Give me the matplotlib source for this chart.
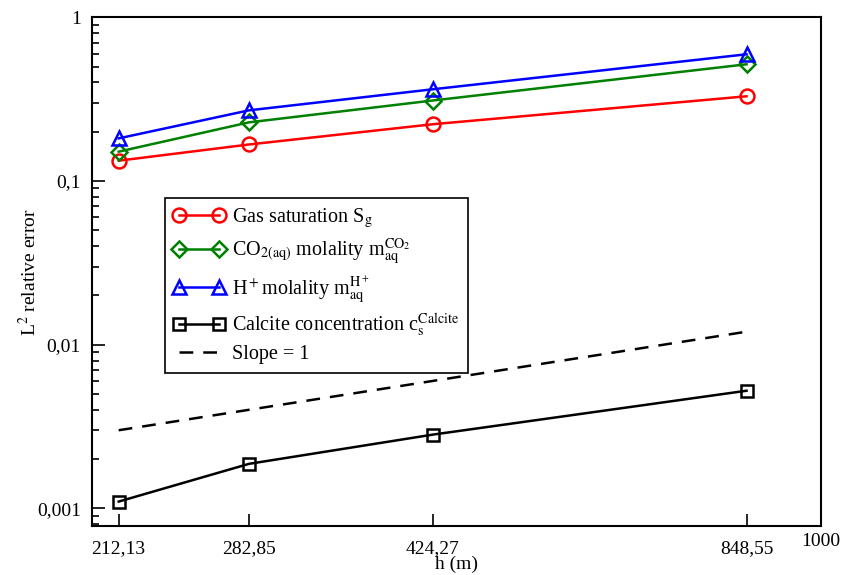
import matplotlib
matplotlib.use('Agg')
import matplotlib.pyplot as plt
import matplotlib.transforms as mtransforms
from matplotlib.ticker import FixedLocator, LogLocator, NullLocator

plt.rcParams['font.family'] = ['Liberation Serif', 'DejaVu Serif']
plt.rcParams['mathtext.fontset'] = 'stix'

# --------------------------
# Data
# --------------------------
h = [212.13, 282.85, 424.27, 848.55]
gas_sat = [0.133, 0.167, 0.222, 0.329]
co2_mol = [0.151, 0.228, 0.31, 0.516]
hplus_mol = [0.182, 0.27, 0.363, 0.594]
calcite = [0.0011, 0.00187, 0.00282, 0.00523]
slope_one = [0.003, 0.004, 0.006, 0.012]

xtick_vals = [212.13, 282.85, 424.27, 848.55, 1000]
xtick_labels = ['212,13', '282,85', '424,27', '848,55', '1000']
ytick_vals = [0.001, 0.01, 0.1, 1]
ytick_labels = ['0,001', '0,01', '0,1', '1']

fig = plt.figure(figsize=(8.56, 5.75), dpi=100)
ax = fig.add_axes([0.1075, 0.0852, 0.959 - 0.1075, 0.970 - 0.0852])

lw = 1.8
ax.plot(h, gas_sat, color='red', marker='o', fillstyle='none', markersize=10,
        markeredgewidth=lw, linewidth=lw, label=r'Gas saturation S$_\mathrm{g}$')
ax.plot(h, co2_mol, color='green', marker='D', fillstyle='none', markersize=8.5,
        markeredgewidth=lw, linewidth=lw,
        label=r'CO$_{2\mathrm{(aq)}}$ molality m$_\mathrm{aq}^\mathrm{CO_2}$')
ax.plot(h, hplus_mol, color='blue', marker='^', fillstyle='none', markersize=10,
        markeredgewidth=lw, linewidth=lw,
        label=r'H$^+$molality m$_\mathrm{aq}^\mathrm{H^+}$')
ax.plot(h, calcite, color='black', marker='s', fillstyle='none', markersize=9,
        markeredgewidth=lw, linewidth=lw,
        label=r'Calcite concentration c$_\mathrm{s}^\mathrm{Calcite}$')
ax.plot(h, slope_one, color='black', linestyle=(0, (5.5, 4)), linewidth=lw,
        label='Slope = 1')

ax.set_xscale('log')
ax.set_yscale('log')
ax.set_xlim(200, 1000)
ax.set_ylim(0.00078, 1)

# ticks
ax.xaxis.set_major_locator(FixedLocator(xtick_vals))
ax.set_xticklabels(xtick_labels)
ax.xaxis.set_minor_locator(NullLocator())
ax.yaxis.set_major_locator(FixedLocator(ytick_vals))
ax.set_yticklabels(ytick_labels)
ax.yaxis.set_minor_locator(LogLocator(base=10, subs=range(2, 10)))
ax.tick_params(axis='both', which='major', direction='in', length=9, width=1.2,
               labelsize=14, top=False, right=False, pad=8)
ax.tick_params(axis='x', which='major', pad=10)
ax.tick_params(axis='y', which='minor', direction='in', length=5, width=1.2, right=False)
for s in ax.spines.values():
    s.set_linewidth(1.5)

# the "1000" label sits a little higher in the original
lab = ax.get_xticklabels()[-1]
lab.set_transform(lab.get_transform() + mtransforms.ScaledTranslation(0, 7 / 100, fig.dpi_scale_trans))

ax.set_xlabel('h (m)', fontsize=14, labelpad=-1)
ax.set_ylabel(r'L$^2$ relative error', fontsize=14, labelpad=-2)

leg = ax.legend(loc='upper left', bbox_to_anchor=(0.1, 0.645), borderaxespad=0,
                fontsize=14.5, numpoints=2, handlelength=2.6, fancybox=False,
                edgecolor='black', framealpha=1, labelspacing=0.33,
                handletextpad=0.35, borderpad=0.4)
leg.get_frame().set_linewidth(1.2)

fig.savefig('out.png', dpi=100)
